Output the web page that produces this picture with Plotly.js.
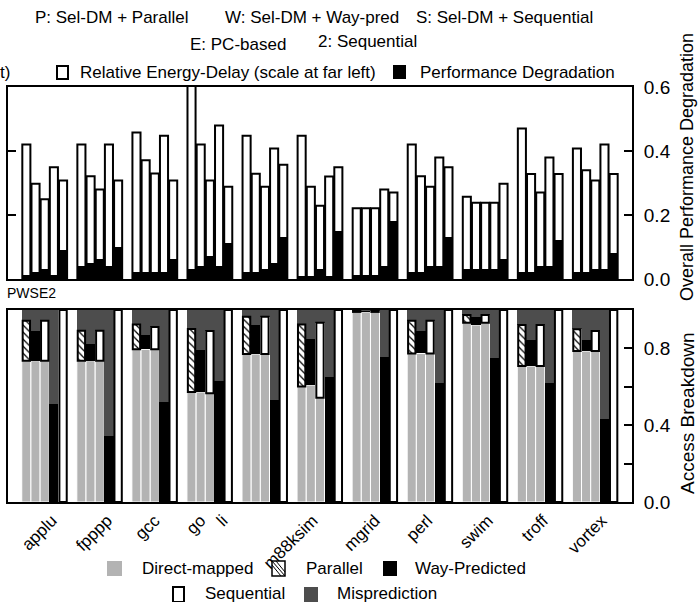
<!DOCTYPE html>
<html>
<head>
<meta charset="utf-8">
<script src="https://cdn.plot.ly/plotly-3.0.1.min.js"></script>
<style>html,body{margin:0;padding:0;background:#fff;}#chart{width:698px;height:602px;}</style>
</head>
<body>
<div id="chart"></div>
<script>
// ---------------- data ----------------
const categories = ['applu','fpppp','gcc','go','li','m88ksim','mgrid','perl','swim','troff','vortex'];
const configs = ['P','W','S','E','2'];

// Top panel: Relative Energy-Delay (white bars)
const edP = [0.42, 0.42, 0.458, 0.65, 0.448, 0.448, 0.221, 0.42, 0.257, 0.47, 0.408];
const edW = [0.298, 0.321, 0.371, 0.42, 0.329, 0.288, 0.221, 0.321, 0.238, 0.328, 0.34];
const edS = [0.249, 0.28, 0.33, 0.308, 0.288, 0.229, 0.221, 0.288, 0.238, 0.27, 0.308];
const edE = [0.349, 0.42, 0.448, 0.48, 0.408, 0.32, 0.28, 0.38, 0.238, 0.38, 0.42];
const ed2 = [0.308, 0.308, 0.308, 0.288, 0.357, 0.349, 0.27, 0.349, 0.298, 0.328, 0.328];

// Top panel: Performance Degradation (black bars)
const perfP = [0.0125, 0.04, 0.022, 0.031, 0.022, 0.008, 0.0125, 0.022, 0.031, 0.022, 0.022];
const perfW = [0.022, 0.051, 0.022, 0.04, 0.022, 0.008, 0.0125, 0.022, 0.031, 0.022, 0.022];
const perfS = [0.031, 0.0625, 0.022, 0.072, 0.031, 0.031, 0.0125, 0.04, 0.031, 0.04, 0.031];
const perfE = [0.0125, 0.04, 0.022, 0.04, 0.051, 0.008, 0.04, 0.04, 0.031, 0.04, 0.031];
const perf2 = [0.09, 0.101, 0.0625, 0.1125, 0.132, 0.151, 0.181, 0.132, 0.0625, 0.122, 0.082];

// Bottom panel: Access Breakdown
const dmP  = [0.736, 0.736, 0.795, 0.573, 0.771, 0.601, 0.99, 0.774, 0.934, 0.708, 0.786];
const parP = [0.208, 0.156, 0.13, 0.328, 0.194, 0.324, 0.005, 0.17, 0.04, 0.214, 0.114];
const misP = [0.056, 0.108, 0.075, 0.099, 0.035, 0.075, 0.005, 0.056, 0.026, 0.078, 0.1];
const dmW  = [0.736, 0.736, 0.795, 0.573, 0.771, 0.609, 0.99, 0.774, 0.922, 0.708, 0.786];
const wayW = [0.154, 0.087, 0.075, 0.219, 0.151, 0.24, 0.005, 0.118, 0.043, 0.136, 0.058];
const misW = [0.11, 0.177, 0.13, 0.208, 0.078, 0.151, 0.005, 0.108, 0.035, 0.156, 0.156];
const dmS  = [0.736, 0.736, 0.795, 0.566, 0.771, 0.543, 0.99, 0.774, 0.934, 0.708, 0.786];
const seqS = [0.208, 0.156, 0.116, 0.325, 0.194, 0.391, 0.005, 0.17, 0.04, 0.214, 0.105];
const misS = [0.056, 0.108, 0.089, 0.109, 0.035, 0.066, 0.005, 0.056, 0.026, 0.078, 0.109];
const wayE = [0.51, 0.345, 0.521, 0.63, 0.531, 0.651, 0.754, 0.621, 0.748, 0.618, 0.432];
const misE = [0.49, 0.655, 0.479, 0.37, 0.469, 0.349, 0.246, 0.379, 0.252, 0.382, 0.568];
const seq2 = [1, 1, 1, 1, 1, 1, 1, 1, 1, 1, 1];

// ---------------- helpers ----------------
const FONT = '"Liberation Sans", Arial, Helvetica, sans-serif';
const W = 698, H = 602;
const px = x => x / W;
const py = y => 1 - y / H;
const pos = (g, b) => 6 * g + b + 2;   // bar centre on the linear x axis

function series(list) { // list: array of [barIndex, values, stackedBelow]
  const x = [], y = [], base = [];
  categories.forEach((c, g) => {
    list.forEach(([b, vals, bases]) => {
      x.push(pos(g, b));
      y.push(vals[g]);
      base.push(bases ? bases.reduce((s, arr) => s + arr[g], 0) : 0);
    });
  });
  return {x, y, base};
}

const traces = [];

// top panel
const edAll = series([[0, edP], [1, edW], [2, edS], [3, edE], [4, ed2]]);
traces.push({type: 'bar', x: edAll.x, y: edAll.y, width: 0.88, xaxis: 'x', yaxis: 'y',
  marker: {color: 'white', line: {color: 'black', width: 2}}, name: 'Relative Energy-Delay', showlegend: false, hoverinfo: 'skip'});
const perfAll = series([[0, perfP], [1, perfW], [2, perfS], [3, perfE], [4, perf2]]);
traces.push({type: 'bar', x: perfAll.x, y: perfAll.y, width: 0.88, xaxis: 'x', yaxis: 'y',
  marker: {color: 'black', line: {width: 0}}, name: 'Performance Degradation', showlegend: false, hoverinfo: 'skip'});

// bottom panel
const dm = series([[0, dmP], [1, dmW], [2, dmS]]);
traces.push({type: 'bar', x: dm.x, y: dm.y, base: dm.base, width: 1, xaxis: 'x2', yaxis: 'y2',
  marker: {color: '#b3b3b3', line: {color: 'white', width: 1}}, name: 'Direct-mapped', showlegend: false, hoverinfo: 'skip'});
const mis = series([[0, misP, [dmP, parP]], [1, misW, [dmW, wayW]], [2, misS, [dmS, seqS]], [3, misE, [wayE]]]);
traces.push({type: 'bar', x: mis.x, y: mis.y, base: mis.base, width: 1, xaxis: 'x2', yaxis: 'y2',
  marker: {color: '#4d4d4d', line: {width: 0}}, name: 'Misprediction', showlegend: false, hoverinfo: 'skip'});
const way = series([[1, wayW, [dmW]], [3, wayE]]);
traces.push({type: 'bar', x: way.x, y: way.y, base: way.base, width: 1, xaxis: 'x2', yaxis: 'y2',
  marker: {color: 'black', line: {width: 0}}, name: 'Way-Predicted', showlegend: false, hoverinfo: 'skip'});
const par = series([[0, parP, [dmP]]]);
traces.push({type: 'bar', x: par.x, y: par.y, base: par.base, width: 0.8, xaxis: 'x2', yaxis: 'y2',
  marker: {color: 'white', line: {color: 'black', width: 2},
    pattern: {shape: '\\', fgcolor: 'black', bgcolor: 'white', size: 5, solidity: 0.25}},
  name: 'Parallel', showlegend: false, hoverinfo: 'skip'});
const seq = series([[2, seqS, [dmS]], [4, seq2]]);
traces.push({type: 'bar', x: seq.x, y: seq.y, base: seq.base, width: 0.8, xaxis: 'x2', yaxis: 'y2',
  marker: {color: 'white', line: {color: 'black', width: 2}}, name: 'Sequential', showlegend: false, hoverinfo: 'skip'});

// ---------------- layout ----------------
const labelPos = [4.8, 10.8, 16.0, 21.0, 23.4, 33.2, 40.0, 45.7, 52.3, 58.3, 64.7];
const tickFont = {family: FONT, size: 19, color: 'black'};

const annotations = [];
function txt(t, x, y, size, extra) {
  annotations.push(Object.assign({text: t, xref: 'paper', yref: 'paper', x: px(x), y: py(y),
    xanchor: 'left', yanchor: 'middle', showarrow: false, font: {family: FONT, size: size || 17, color: 'black'}}, extra || {}));
}
txt('P: Sel-DM + Parallel', 33, 17);
txt('W: Sel-DM + Way-pred', 223, 17);
txt('S: Sel-DM + Sequential', 414, 17);
txt('E: PC-based', 188, 45);
txt('2: Sequential', 316, 41);
txt('t)', -2, 73);
txt('Relative Energy-Delay (scale at far left)', 78, 72);
txt('Performance Degradation', 418, 72);
txt('PWSE2', 5, 293, 14);
txt('Direct-mapped', 140, 568);
txt('Parallel', 304, 568);
txt('Way-Predicted', 413, 568);
txt('Sequential', 203, 593);
txt('Misprediction', 335, 593);
txt('Overall Performance Degradation', 687, 167, 18, {xanchor: 'center', textangle: -90});
txt('Access Breakdown', 687, 413, 19, {xanchor: 'center', textangle: -90});

const shapes = [];
function box(x0, y0, x1, y1, fill, lineW) {
  shapes.push({type: 'rect', xref: 'paper', yref: 'paper', x0: px(x0), x1: px(x1), y0: py(y1), y1: py(y0),
    fillcolor: fill, line: {color: 'black', width: lineW}});
}
box(57, 66, 68, 79, 'white', 2);
box(393, 65, 406, 79, 'black', 0);
box(107, 561, 122, 576, '#b3b3b3', 0);
box(272, 561, 285, 576, 'white', 1.5);
[[272, 565, 281, 576], [272, 561, 285, 576], [276, 561, 285, 572]].forEach(([a, b, c, d]) => {
  shapes.push({type: 'line', xref: 'paper', yref: 'paper', x0: px(a), y0: py(b), x1: px(c), y1: py(d), line: {color: 'black', width: 1}});
});
box(383, 561, 397, 576, 'black', 0);
box(173, 587, 184, 602, 'white', 2);
box(304, 587, 318, 602, '#4d4d4d', 0);

const axCommon = {showgrid: false, zeroline: false, linecolor: 'black', linewidth: 2, showline: true};
const layout = {
  width: W, height: H,
  margin: {l: 0, r: 0, t: 0, b: 0, pad: 0},
  paper_bgcolor: 'white', plot_bgcolor: 'white',
  barmode: 'overlay', bargap: 0,
  showlegend: false,
  font: {family: FONT, size: 17, color: 'black'},
  xaxis: Object.assign({}, axCommon, {domain: [px(8), px(632)], range: [0, 68], mirror: true,
    showticklabels: false, ticks: '', anchor: 'y', fixedrange: true}),
  yaxis: Object.assign({}, axCommon, {domain: [py(279), py(87)], range: [0, 0.6], side: 'right',
    ticks: 'inside', ticklen: 8, tickwidth: 2, tickcolor: 'black', mirror: 'ticks',
    tickvals: [0, 0.2, 0.4, 0.6], ticktext: ['0.0', '0.2', '0.4', '0.6'],
    tickfont: tickFont, ticklabelstandoff: 6, anchor: 'x', fixedrange: true}),
  xaxis2: Object.assign({}, axCommon, {domain: [px(8), px(632)], range: [0, 68], mirror: true,
    ticks: '', tickvals: labelPos, ticktext: categories, tickangle: -45,
    tickfont: {family: FONT, size: 17, color: 'black'}, anchor: 'y2', fixedrange: true}),
  yaxis2: Object.assign({}, axCommon, {domain: [py(502), py(310)], range: [0, 1], side: 'right',
    ticks: 'inside', ticklen: 8, tickwidth: 2, tickcolor: 'black', mirror: true,
    tickvals: [0, 0.2, 0.4, 0.6, 0.8], ticktext: ['0.0', '', '0.4', '', '0.8'],
    tickfont: tickFont, ticklabelstandoff: 6, anchor: 'x2', fixedrange: true}),
  annotations: annotations,
  shapes: shapes
};

Plotly.newPlot('chart', traces, layout, {displayModeBar: false, staticPlot: true});
</script>
</body>
</html>
